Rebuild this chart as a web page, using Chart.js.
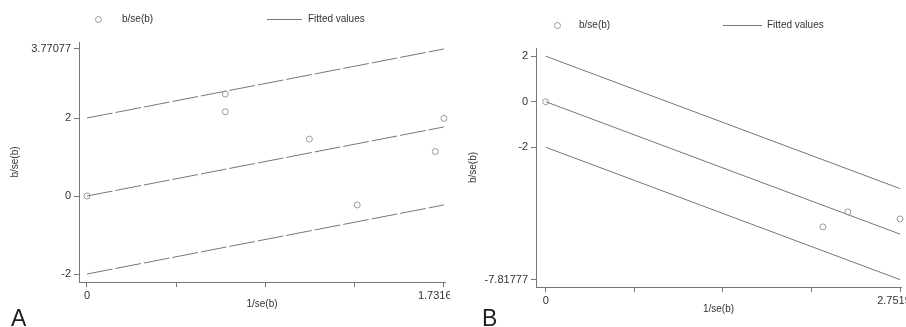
<!DOCTYPE html>
<html>
<head>
<meta charset="utf-8">
<script src="https://cdn.jsdelivr.net/npm/chart.js@4"></script>
<style>
  body { margin: 0; background: #fff; width: 906px; height: 327px; overflow: hidden; position: relative; font-family: "Liberation Sans", Arial, sans-serif; }
  canvas { position: absolute; top: 0; }
  .leg { position: absolute; font-size: 10px; color: #333; line-height: 12px; }
  .dot { position: absolute; width: 5px; height: 5px; border: 1px solid #999; border-radius: 50%; }
  .ln { position: absolute; height: 0; border-top: 1px solid #777; }
  .pan { position: absolute; font-size: 23px; color: #222; }
</style>
</head>
<body>
<canvas id="a" width="450" height="327" style="left:0"></canvas>
<canvas id="b" width="456" height="327" style="left:450px"></canvas>

<div class="dot" style="left:95px;top:16px"></div>
<div class="leg" style="left:122px;top:13px">b/se(b)</div>
<div class="ln" style="left:267px;top:19px;width:35px"></div>
<div class="leg" style="left:308px;top:13px">Fitted values</div>

<div class="dot" style="left:554px;top:22px"></div>
<div class="leg" style="left:579px;top:19px">b/se(b)</div>
<div class="ln" style="left:723px;top:25px;width:39px"></div>
<div class="leg" style="left:767px;top:19px">Fitted values</div>

<div class="pan" style="left:11px;top:305px">A</div>
<div class="pan" style="left:482px;top:305px">B</div>

<script>
// panel A
const xA = [0, 0.671, 0.671, 1.079, 1.311, 1.69, 1.73165];
const yA = [0, 2.615, 2.16, 1.46, -0.23, 1.14, 1.99];
const fitXA = [0, 1.73165];
const fitMidA = [0, 1.77077];
const fitUpA = [2, 3.77077];
const fitLoA = [-2, -0.22923];
const xTicksA = [0, 0.4329, 0.8658, 1.2987, 1.73165];
const yTicksA = [-2, 0, 2, 3.77077];

// panel B
const xB = [0, 2.152, 2.346, 2.7519];
const yB = [0, -5.50, -4.84, -5.15];
const fitXB = [0, 2.7519];
const fitMidB = [0, -5.81777];
const fitUpB = [2, -3.81777];
const fitLoB = [-2, -7.81777];
const xTicksB = [0, 0.688, 1.376, 2.064, 2.7519];
const yTicksB = [-7.81777, -2, 0, 2];

const grey = "#777";
const tickFont = { family: "Liberation Sans", size: 11 };

function pts(xs, ys){
  return xs.map((x, i) => ({ x: x, y: ys[i] }));
}

function fitLine(xs, ys, dash){
  return {
    data: pts(xs, ys),
    showLine: true,
    pointRadius: 0,
    borderColor: grey,
    borderWidth: 1,
    borderDash: dash
  };
}

// no extra room for labels that hang over the plot edge
function noPad(s){
  s.paddingLeft = 0; s.paddingRight = 0; s.paddingTop = 0; s.paddingBottom = 0;
}

function makeChart(id, o){
  // only the end ticks get a label; the last one sits a little left of its tick
  const endsOnly = (ticks) => (v, i) => {
    if(i === 0) return String(ticks[i]);
    if(i === ticks.length - 1) return String(ticks[i]) + "    ";
    return "";
  };
  return new Chart(document.getElementById(id), {
    type: "scatter",
    data: {
      datasets: [
        {
          data: pts(o.x, o.y),
          pointRadius: 3,
          pointBorderWidth: 1,
          borderColor: "#999",
          backgroundColor: "rgba(0,0,0,0)"
        },
        fitLine(o.fitX, o.mid, o.dash),
        fitLine(o.fitX, o.up, o.dash),
        fitLine(o.fitX, o.lo, o.dash)
      ]
    },
    options: {
      responsive: false,
      animation: false,
      clip: false,
      layout: { padding: { top: o.top, right: 0, left: 0, bottom: 0 } },
      plugins: { legend: { display: false }, tooltip: { enabled: false } },
      scales: {
        x: {
          type: "linear",
          min: o.xmin, max: o.xmax,
          afterBuildTicks: (s) => { s.ticks = o.xTicks.map(v => ({ value: v })); },
          afterFit: (s) => { s.height = o.xh; noPad(s); },
          ticks: { callback: endsOnly(o.xTicks), color: "#333", font: tickFont, padding: 2, maxRotation: 0, autoSkip: false },
          grid: { drawOnChartArea: false, tickLength: 5, color: grey },
          border: { color: grey },
          title: { display: true, text: "1/se(b)", color: "#333", font: { family: "Liberation Sans", size: 10 }, padding: { top: 0, bottom: o.xtPad } }
        },
        y: {
          type: "linear",
          min: o.ymin, max: o.ymax,
          afterBuildTicks: (s) => { s.ticks = o.yTicks.map(v => ({ value: v })); },
          afterFit: (s) => { s.width = o.yw; noPad(s); },
          ticks: { callback: (v, i) => String(o.yTicks[i]), color: "#333", font: tickFont, padding: 3, autoSkip: false },
          grid: { drawOnChartArea: false, tickLength: 5, color: grey },
          border: { color: grey },
          title: { display: true, text: "b/se(b)", color: "#333", font: { family: "Liberation Sans", size: 10 }, padding: { top: o.ytPad, bottom: 0 } }
        }
      }
    }
  });
}

makeChart("a", {
  x: xA, y: yA, fitX: fitXA, mid: fitMidA, up: fitUpA, lo: fitLoA,
  xTicks: xTicksA, yTicks: yTicksA, dash: [26, 3],
  xmin: -0.0387, xmax: 1.737, ymin: -2.205, ymax: 3.949,
  top: 42, xh: 45, yw: 79, xtPad: 17, ytPad: 9
});

makeChart("b", {
  x: xB, y: yB, fitX: fitXB, mid: fitMidB, up: fitUpB, lo: fitLoB,
  xTicks: xTicksB, yTicks: yTicksB, dash: [],
  xmin: -0.0752, xmax: 2.759, ymin: -8.14, ymax: 2.36,
  top: 48, xh: 40, yw: 86, xtPad: 12, ytPad: 17
});
</script>
</body>
</html>
